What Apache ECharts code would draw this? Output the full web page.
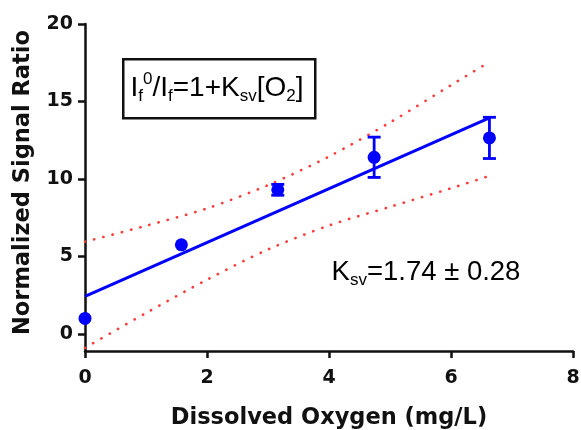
<!DOCTYPE html>
<html>
<head>
<meta charset="utf-8">
<script src="https://cdn.jsdelivr.net/npm/echarts@6/dist/echarts.min.js"></script>
<style>html,body{margin:0;padding:0;background:#fff}#c{width:581px;height:430px}</style>
</head>
<body>
<div id="c"></div>
<script>
// ---- data ----
const oxygen = [0, 1.58, 3.16, 4.74, 6.63];
const ratioMean = [1.0, 5.75, 9.3, 11.4, 12.65];
const ratioErr = [0, 0, 0.35, 1.3, 1.33];
const fitX = [0, 6.63];
const fitY = [2.42, 13.95];
const bandX = [0, 1, 2, 3, 4, 5, 6, 6.63];
const bandUpper = [5.95, 6.98, 8.1, 9.6, 11.45, 13.65, 16.05, 17.55];
const bandLower = [-0.9, 1.35, 3.5, 5.45, 7.0, 8.2, 9.4, 10.2];
const xTicks = [0, 2, 4, 6, 8];
const yTicks = [0, 5, 10, 15, 20];
const xTitle = 'Dissolved Oxygen (mg/L)';
const yTitle = 'Normalized Signal Ratio';

const BLUE = '#0000ff';
const RED = '#ff3a3a';
const AX = '#111';
const boldFont = 'DejaVu Sans';
const annFont = 'Liberation Sans';

const chart = echarts.init(document.getElementById('c'), null, {renderer: 'canvas'});

const zip = (xs, ys) => xs.map((x, i) => [x, ys[i]]);
const errData = oxygen.map((x, i) => [x, ratioMean[i] - ratioErr[i], ratioMean[i] + ratioErr[i], ratioErr[i]])
  .filter(d => d[3] > 0);

const dotStyle = {color: RED, width: 2.6, type: [0.3, 9.2], cap: 'round'};

const option = {
  animation: false,
  grid: {left: 85, right: 8, top: 24, bottom: 79, containLabel: false, outerBoundsMode: 'none'},
  xAxis: {
    type: 'value', min: 0, max: 8, interval: 2,
    name: xTitle, nameLocation: 'middle', nameGap: 56,
    nameTextStyle: {fontFamily: boldFont, fontWeight: 'bold', fontSize: 22.5, color: AX},
    axisLine: {show: true, onZero: false, lineStyle: {color: AX, width: 2.5}},
    axisTick: {show: true, length: 7, lineStyle: {color: AX, width: 2.5}, customValues: xTicks},
    axisLabel: {fontFamily: boldFont, fontWeight: 'bold', fontSize: 19, color: AX, margin: 18, customValues: xTicks},
    splitLine: {show: false}
  },
  yAxis: {
    type: 'value', min: -1.1, max: 20,
    name: yTitle, nameLocation: 'middle', nameGap: 50,
    nameTextStyle: {fontFamily: boldFont, fontWeight: 'bold', fontSize: 22.5, color: AX, padding: [0, 0, 0, 10]},
    axisLine: {show: true, onZero: false, lineStyle: {color: AX, width: 2.5}},
    axisTick: {show: true, length: 7, lineStyle: {color: AX, width: 2.5}, customValues: yTicks},
    axisLabel: {fontFamily: boldFont, fontWeight: 'bold', fontSize: 19, color: AX, margin: 12, customValues: yTicks},
    splitLine: {show: false}
  },
  series: [
    {type: 'line', data: zip(bandX, bandUpper), showSymbol: false, symbol: 'none', smooth: 0.3, lineStyle: dotStyle, z: 2},
    {type: 'line', data: zip(bandX, bandLower), showSymbol: false, symbol: 'none', smooth: 0.3, lineStyle: dotStyle, z: 2},
    {type: 'line', data: zip(fitX, fitY), showSymbol: false, symbol: 'none', lineStyle: {color: BLUE, width: 3}, z: 3},
    {
      type: 'custom', data: errData, z: 4, clip: false,
      renderItem: function (params, api) {
        const x = api.value(0);
        const pLo = api.coord([x, api.value(1)]);
        const pHi = api.coord([x, api.value(2)]);
        const hw = 6.5;
        const st = {stroke: BLUE, lineWidth: 2.8};
        return {
          type: 'group', children: [
            {type: 'line', shape: {x1: pHi[0], y1: pHi[1], x2: pLo[0], y2: pLo[1]}, style: st},
            {type: 'line', shape: {x1: pHi[0] - hw, y1: pHi[1], x2: pHi[0] + hw, y2: pHi[1]}, style: st},
            {type: 'line', shape: {x1: pLo[0] - hw, y1: pLo[1], x2: pLo[0] + hw, y2: pLo[1]}, style: st}
          ]
        };
      }
    },
    {type: 'scatter', data: zip(oxygen, ratioMean), symbol: 'circle', symbolSize: 13, itemStyle: {color: BLUE, opacity: 1}, z: 5, clip: false}
  ],
  graphic: [
    {type: 'rect', left: 122, top: 58, shape: {width: 192, height: 59}, style: {fill: '#fff', stroke: '#111', lineWidth: 2.5}, z: 10},
    {
      type: 'text', z: 11,
      style: {
        x: 217, y: 88, align: 'center', verticalAlign: 'middle',
        text: '{m|I}{sub|f}{sup|0}{m|/I}{sub|f}{m|=1+K}{sub|sv}{m|[O}{sub|2}{m|]}',
        rich: {
          m: {fontFamily: annFont, fontSize: 28, lineHeight: 34, color: '#222', verticalAlign: 'middle'},
          sub: {fontFamily: annFont, fontSize: 17, lineHeight: 17, color: '#222', verticalAlign: 'bottom'},
          sup: {fontFamily: annFont, fontSize: 17, lineHeight: 20, color: '#222', verticalAlign: 'top'}
        }
      }
    },
    {
      type: 'text', z: 11,
      style: {
        x: 426, y: 272, align: 'center', verticalAlign: 'middle',
        text: '{m|K}{sub|sv}{m|=1.74 ± 0.28}',
        rich: {
          m: {fontFamily: annFont, fontSize: 27.5, lineHeight: 34, color: '#222', verticalAlign: 'middle'},
          sub: {fontFamily: annFont, fontSize: 17, lineHeight: 17, color: '#222', verticalAlign: 'bottom'}
        }
      }
    }
  ]
};
chart.setOption(option);
</script>
</body>
</html>
